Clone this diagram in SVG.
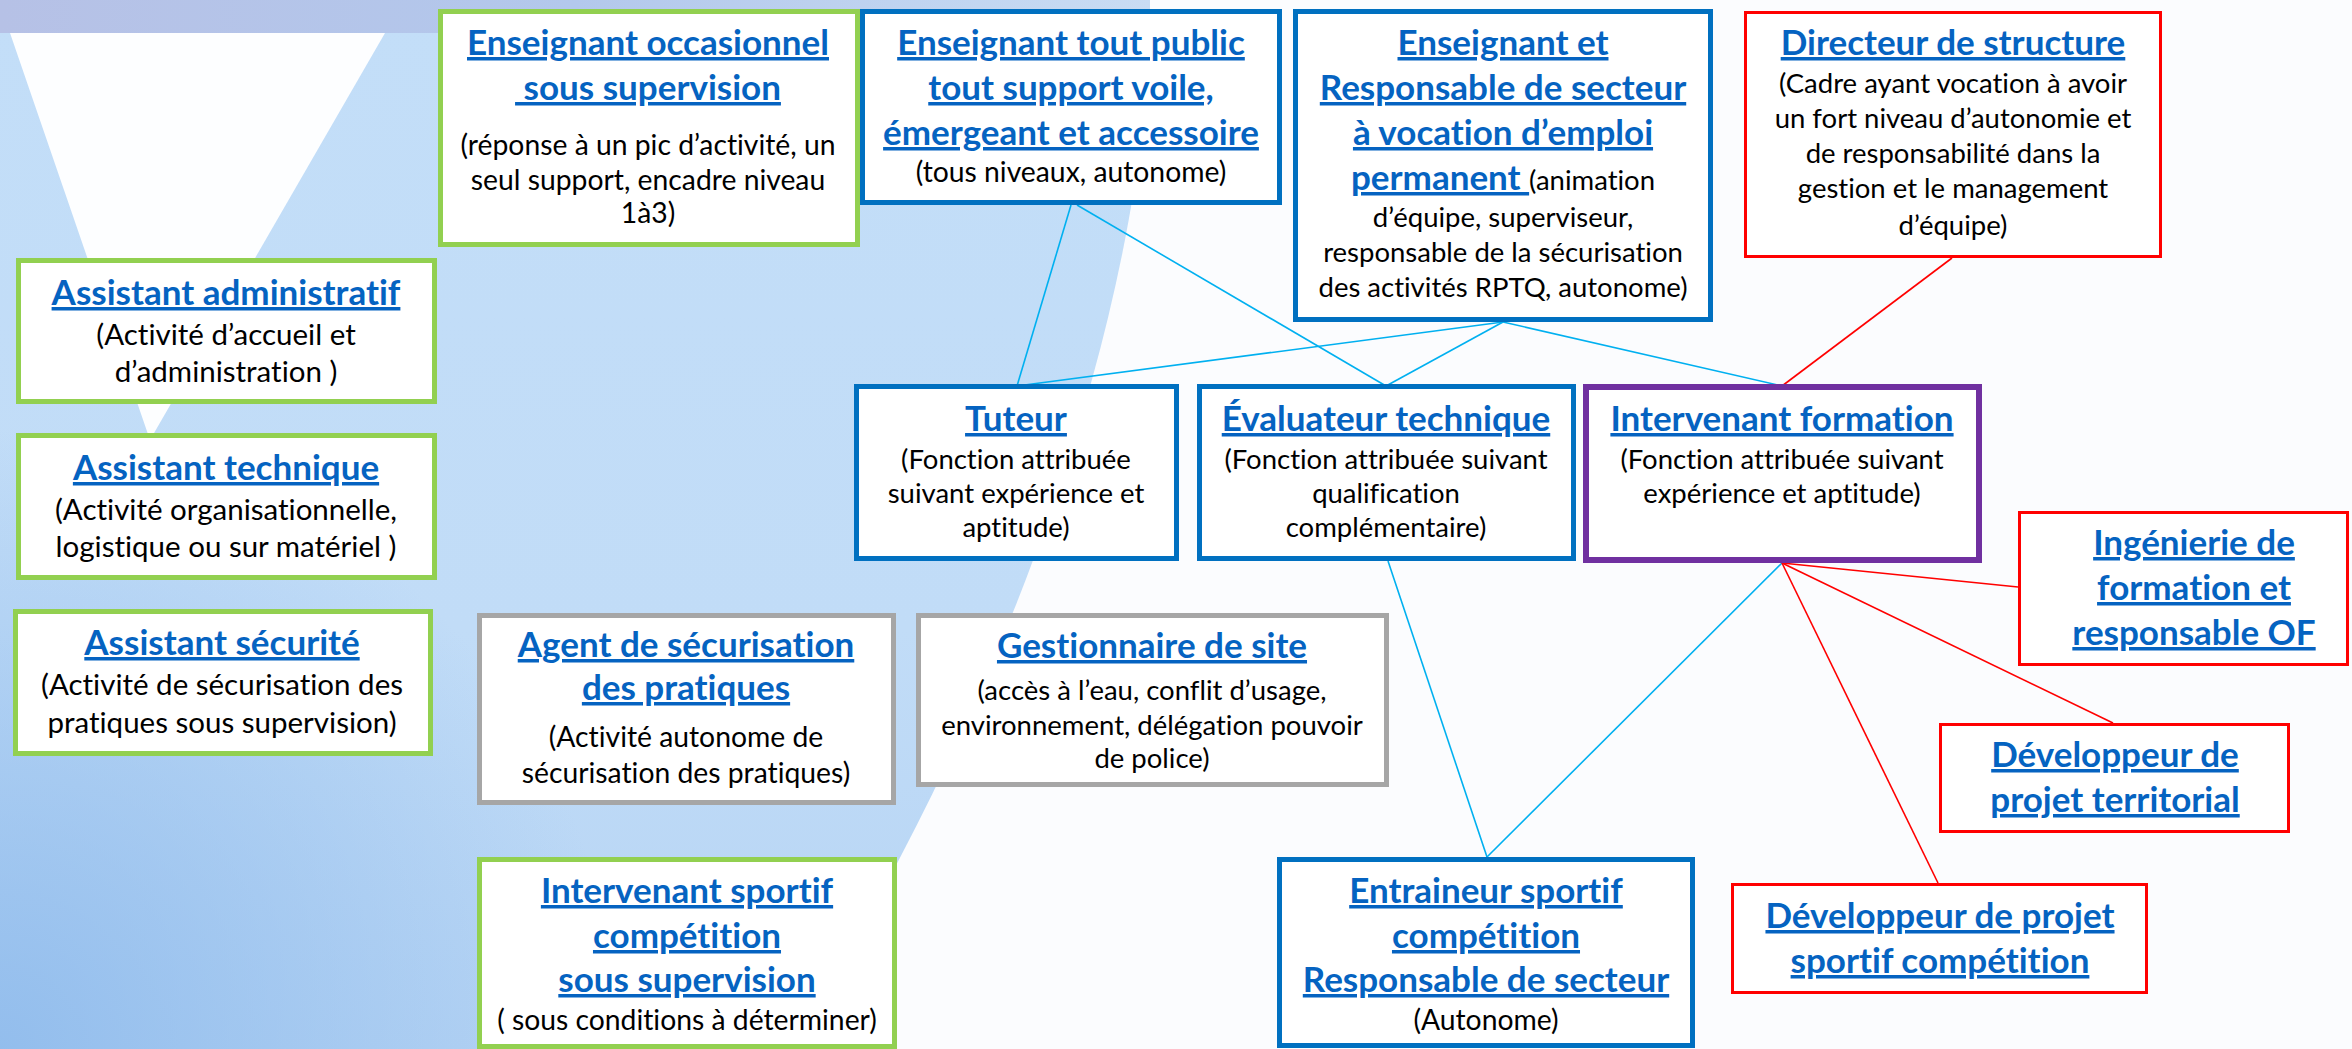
<svg xmlns="http://www.w3.org/2000/svg" width="2352" height="1049" viewBox="0 0 2352 1049">
<defs>
<linearGradient id="blueBg" x1="0" y1="0" x2="0" y2="1">
<stop offset="0" stop-color="#c3def8"/>
<stop offset="0.6" stop-color="#c1dcf7"/>
<stop offset="1" stop-color="#b6d4f4"/>
</linearGradient>
<radialGradient id="dark" cx="0" cy="1049" r="620" gradientUnits="userSpaceOnUse">
<stop offset="0" stop-color="#8fbbec" stop-opacity="0.9"/>
<stop offset="1" stop-color="#8fbbec" stop-opacity="0"/>
</radialGradient>
<linearGradient id="band" x1="0" y1="0" x2="1" y2="0">
<stop offset="0" stop-color="#b6c1e6"/>
<stop offset="0.5" stop-color="#b3c8ec"/>
<stop offset="1" stop-color="#c9dcf3"/>
</linearGradient>
<style>
text { font-family: Lato, "Open Sans", sans-serif; font-variant-ligatures: none; font-feature-settings: "liga" 0, "clig" 0; text-anchor: middle; }
.h { font-weight: 700; font-size: 35px; fill: #0563c1; text-decoration: underline; }
.b { font-weight: 400; fill: #000000; }
.s30 .b { font-size: 29.5px; }
.s28 .b { font-size: 28.3px; }
.s27 .b { font-size: 27.5px; }
.box { fill: #ffffff; }
.green { stroke: #92d050; stroke-width: 5; }
.blue { stroke: #0070c0; stroke-width: 5; }
.purple { stroke: #7030a0; stroke-width: 6; }
.red { stroke: #ff0000; stroke-width: 3; }
.grey { stroke: #a6a6a6; stroke-width: 5; }
.lb { stroke: #00b0f0; stroke-width: 1.6; fill: none; }
.lr { stroke: #ff0000; stroke-width: 1.6; fill: none; }
</style>
</defs>

<g id="background">
<rect x="0" y="0" width="2352" height="1049" fill="#fbfcfe"/>
<path d="M0,0 H1150 C1150,300 1010,700 790,1049 H0 Z" fill="url(#blueBg)"/>
<path d="M0,0 H1150 C1150,300 1010,700 790,1049 H0 Z" fill="url(#dark)"/>
<rect x="0" y="0" width="1150" height="33" fill="url(#band)"/>
<polygon points="10,33 385,33 150,440" fill="#fdfeff"/>
</g>

<g id="connectors">
<line class="lb" x1="1077" y1="205" x2="1386" y2="386"/>
<line class="lb" x1="1071" y1="205" x2="1017" y2="386"/>
<line class="lb" x1="1503" y1="322" x2="1017" y2="386"/>
<line class="lb" x1="1503" y1="322" x2="1386" y2="386"/>
<line class="lb" x1="1503" y1="322" x2="1782" y2="386"/>
<line class="lb" x1="1388" y1="561" x2="1487" y2="857"/>
<line class="lb" x1="1782" y1="563" x2="1487" y2="857"/>
<line class="lr" x1="1952" y1="258" x2="1782" y2="386"/>
<line class="lr" x1="1782" y1="563" x2="2018" y2="587"/>
<line class="lr" x1="1782" y1="563" x2="2113" y2="723"/>
<line class="lr" x1="1782" y1="563" x2="1938" y2="883"/>
</g>

<g id="assistant-administratif" class="s30">
<rect class="box green" x="18.5" y="260.5" width="416" height="141"/>
<text class="h" x="226" y="305">Assistant administratif</text>
<text class="b" x="226" y="345">(Activité d’accueil et</text>
<text class="b" x="226" y="382">d’administration )</text>
</g>

<g id="assistant-technique" class="s30">
<rect class="box green" x="18.5" y="435.5" width="416" height="142"/>
<text class="h" x="226" y="480">Assistant technique</text>
<text class="b" x="226" y="520">(Activité organisationnelle,</text>
<text class="b" x="226" y="557">logistique ou sur matériel )</text>
</g>

<g id="assistant-securite" class="s30">
<rect class="box green" x="15.5" y="611.5" width="415" height="142"/>
<text class="h" x="222" y="655">Assistant sécurité</text>
<text class="b" x="222" y="695">(Activité de sécurisation des</text>
<text class="b" x="222" y="733">pratiques sous supervision)</text>
</g>

<g id="enseignant-occasionnel" class="s28">
<rect class="box green" x="440.5" y="11.5" width="417" height="233"/>
<text class="h" x="648" y="55">Enseignant occasionnel</text>
<text class="h" x="648" y="100" xml:space="preserve"> sous supervision</text>
<text class="b" x="648" y="155">(réponse à un pic d’activité, un</text>
<text class="b" x="648" y="190">seul support, encadre niveau</text>
<text class="b" x="648" y="223">1à3)</text>
</g>

<g id="enseignant-tout-public" class="s28">
<rect class="box blue" x="862.5" y="11.5" width="417" height="191"/>
<text class="h" x="1071" y="55">Enseignant tout public</text>
<text class="h" x="1071" y="100">tout support voile,</text>
<text class="h" x="1071" y="145">émergeant et accessoire</text>
<text class="b" x="1071" y="182">(tous niveaux, autonome)</text>
</g>

<g id="enseignant-responsable" class="s27">
<rect class="box blue" x="1295.5" y="11.5" width="415" height="308"/>
<text class="h" x="1503" y="55">Enseignant et</text>
<text class="h" x="1503" y="100">Responsable de secteur</text>
<text class="h" x="1503" y="145">à vocation d’emploi</text>
<text x="1503" y="190" xml:space="preserve"><tspan class="h">permanent </tspan><tspan class="b">(animation</tspan></text>
<text class="b" x="1503" y="227">d’équipe, superviseur,</text>
<text class="b" x="1503" y="262">responsable de la sécurisation</text>
<text class="b" x="1503" y="297">des activités RPTQ, autonome)</text>
</g>

<g id="directeur" class="s27">
<rect class="box red" x="1745.5" y="12.5" width="415" height="244"/>
<text class="h" x="1953" y="55">Directeur de structure</text>
<text class="b" x="1953" y="93">(Cadre ayant vocation à avoir</text>
<text class="b" x="1953" y="128">un fort niveau d’autonomie et</text>
<text class="b" x="1953" y="163">de responsabilité dans la</text>
<text class="b" x="1953" y="198">gestion et le management</text>
<text class="b" x="1953" y="235">d’équipe)</text>
</g>

<g id="tuteur" class="s27">
<rect class="box blue" x="856.5" y="386.5" width="320" height="172"/>
<text class="h" x="1016" y="431">Tuteur</text>
<text class="b" x="1016" y="469">(Fonction attribuée</text>
<text class="b" x="1016" y="503">suivant expérience et</text>
<text class="b" x="1016" y="537">aptitude)</text>
</g>

<g id="evaluateur" class="s27">
<rect class="box blue" x="1199.5" y="386.5" width="374" height="172"/>
<text class="h" x="1386" y="431">Évaluateur technique</text>
<text class="b" x="1386" y="469">(Fonction attribuée suivant</text>
<text class="b" x="1386" y="503">qualification</text>
<text class="b" x="1386" y="537">complémentaire)</text>
</g>

<g id="intervenant-formation" class="s27">
<rect class="box purple" x="1586" y="387" width="393" height="173"/>
<text class="h" x="1782" y="431">Intervenant formation</text>
<text class="b" x="1782" y="469">(Fonction attribuée suivant</text>
<text class="b" x="1782" y="503">expérience et aptitude)</text>
</g>

<g id="agent-securisation" class="s28">
<rect class="box grey" x="479.5" y="615.5" width="414" height="187"/>
<text class="h" x="686" y="657">Agent de sécurisation</text>
<text class="h" x="686" y="700">des pratiques</text>
<text class="b" x="686" y="747">(Activité autonome de</text>
<text class="b" x="686" y="783">sécurisation des pratiques)</text>
</g>

<g id="gestionnaire-site" class="s27">
<rect class="box grey" x="918.5" y="615.5" width="468" height="169"/>
<text class="h" x="1152" y="658">Gestionnaire de site</text>
<text class="b" x="1152" y="700">(accès à l’eau, conflit d’usage,</text>
<text class="b" x="1152" y="735">environnement, délégation pouvoir</text>
<text class="b" x="1152" y="768">de police)</text>
</g>

<g id="intervenant-sportif" class="s28">
<rect class="box green" x="479.5" y="859.5" width="415" height="187"/>
<text class="h" x="687" y="903">Intervenant sportif</text>
<text class="h" x="687" y="948">compétition</text>
<text class="h" x="687" y="992">sous supervision</text>
<text class="b" x="687" y="1030">( sous conditions à déterminer)</text>
</g>

<g id="entraineur-sportif" class="s28">
<rect class="box blue" x="1279.5" y="859.5" width="413" height="186"/>
<text class="h" x="1486" y="903">Entraineur sportif</text>
<text class="h" x="1486" y="948">compétition</text>
<text class="h" x="1486" y="992">Responsable de secteur</text>
<text class="b" x="1486" y="1030">(Autonome)</text>
</g>

<g id="ingenierie-formation">
<rect class="box red" x="2019.5" y="512.5" width="328" height="152"/>
<text class="h" x="2194" y="555">Ingénierie de</text>
<text class="h" x="2194" y="600">formation et</text>
<text class="h" x="2194" y="645">responsable OF</text>
</g>

<g id="developpeur-territorial">
<rect class="box red" x="1940.5" y="724.5" width="348" height="107"/>
<text class="h" x="2115" y="767">Développeur de</text>
<text class="h" x="2115" y="812">projet territorial</text>
</g>

<g id="developpeur-sportif">
<rect class="box red" x="1732.5" y="884.5" width="414" height="108"/>
<text class="h" x="1940" y="928">Développeur de projet</text>
<text class="h" x="1940" y="973">sportif compétition</text>
</g>
</svg>
